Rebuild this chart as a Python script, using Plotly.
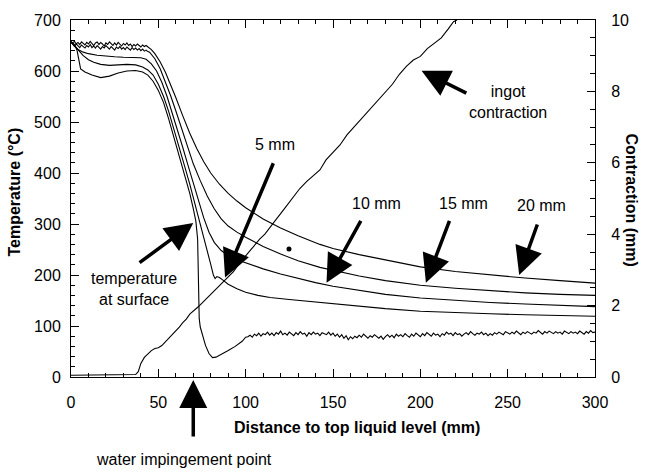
import plotly.graph_objects as go

FONT = "Liberation Sans, Arial, Helvetica, sans-serif"

# ---- temperature profiles (distance in mm, temperature in degC) ----
# noisy melt plateau of the two deepest thermocouples, x = 0..44 mm, 1 mm step
t20_plateau = [657, 655, 658, 653, 656, 652, 657, 654, 651, 656, 653, 658, 654, 650, 655,
               657, 652, 656, 653, 649, 655, 652, 657, 653, 650, 655, 651, 656, 652, 649,
               654, 651, 655, 650, 653, 648, 652, 649, 653, 650, 647, 651, 648, 650, 647]
t15_plateau = [657, 652, 648, 653, 650, 646, 651, 648, 645, 650, 647, 652, 646, 649, 645,
               650, 647, 643, 648, 645, 650, 646, 643, 648, 645, 641, 647, 644, 648, 643,
               646, 642, 647, 644, 641, 646, 642, 645, 641, 644, 640, 643, 639, 641, 638]
plateau_x = list(range(0, 45))

t20_tail_x = [46, 48, 51, 54, 57, 60, 64, 68, 72, 76, 80, 85, 90, 95, 100, 110, 120, 130,
              142.5, 150, 165, 180, 200, 220, 240, 260, 280, 300]
t20_tail_y = [642, 634, 618, 598, 574, 548, 512, 478, 448, 422, 400, 378, 360, 345, 332, 310,
              292, 277, 260, 252, 240, 230, 216, 207, 200, 194, 189, 184]

t15_tail_x = [45, 48, 51, 54, 57, 60, 63, 66, 70, 74, 78, 82, 86, 90, 95, 100, 110, 120, 130,
              142.5, 150, 165, 180, 200, 220, 240, 260, 280, 300]
t15_tail_y = [637, 624, 605, 580, 552, 522, 490, 458, 418, 385, 355, 330, 310, 296, 284, 274,
              256, 241, 228, 215, 209, 198, 189, 180, 174, 169, 165, 162, 160]

t10_x = [0, 2, 4, 7, 10, 15, 20, 25, 30, 35, 40, 43, 46, 49, 52, 55, 58, 61, 64, 67, 70, 73,
         76, 79, 82, 86, 90, 95, 100, 110, 120, 130, 140, 150, 165, 180, 200, 220, 240, 260,
         280, 300]
t10_y = [657, 650, 642, 637, 634, 631, 629, 628, 627, 627, 626, 623, 614, 600, 578, 550, 518,
         484, 450, 415, 380, 345, 312, 284, 264, 248, 238, 230, 224, 212, 202, 193, 185, 178,
         170, 162, 155, 150, 146, 143, 140, 138]

t5_x = [0, 2, 4, 7, 10, 13, 17, 22, 27, 32, 37, 41, 44, 47, 50, 53, 56, 59, 62, 65, 68, 71,
        74, 76, 78, 80, 81.5, 82.5, 83.5, 85, 87, 90, 95, 100, 107, 114, 125, 140, 150, 165,
        180, 200, 220, 240, 260, 280, 300]
t5_y = [656, 650, 642, 630, 622, 617, 613, 611, 612, 613, 612, 608, 602, 592, 574, 550, 520,
        486, 450, 414, 378, 340, 302, 272, 246, 221, 200, 193, 197, 195, 190, 182, 173, 166,
        160, 156, 152, 147, 144, 139, 134, 129, 126, 124, 122, 120, 119]

surf_x = [0, 2, 3.5, 4.5, 5.5, 8, 12, 17, 22, 27, 32, 37, 41, 44, 47, 50, 53, 56, 59, 62, 65,
          68, 70, 71.5, 72.5, 72.8, 73, 73.4, 74, 75.5, 77, 79, 81, 83, 86, 90, 94, 98, 100]
surf_y = [658, 652, 640, 620, 604, 598, 592, 587, 590, 596, 600, 601, 598, 592, 580, 562, 538,
          505, 470, 435, 400, 360, 330, 305, 270, 220, 160, 115, 98, 78, 62, 46, 38, 39, 44,
          52, 60, 70, 78]
# fluctuating surface reading under the water film, x = 101.25..300 mm, 1.25 mm step
surf_noise = [79, 82, 78, 84, 81, 86, 80, 85, 83, 88,
              82, 86, 81, 87, 84, 90, 83, 86, 82, 88,
              85, 81, 87, 83, 89, 84, 86, 80, 87, 83,
              88, 84, 86, 81, 87, 85, 83, 88, 82, 86,
              80, 84, 78, 83, 76, 81, 73, 79, 75, 80,
              77, 82, 78, 84, 79, 76, 81, 78, 83, 80,
              76, 80, 74, 79, 83, 78, 82, 77, 84, 80,
              83, 79, 85, 81, 78, 84, 80, 86, 82, 79,
              85, 81, 87, 83, 80, 86, 82, 84, 79, 85,
              82, 88, 84, 86, 81, 87, 83, 85, 80, 84,
              87, 83, 89, 85, 82, 86, 84, 88, 83, 86,
              81, 85, 82, 87, 84, 88, 85, 83, 89, 86,
              84, 88, 85, 90, 86, 83, 88, 85, 89, 87,
              84, 88, 86, 91, 87, 84, 89, 86, 90, 87,
              85, 89, 86, 88, 84, 90, 87, 85, 89, 86,
              88, 85, 90, 87, 84, 89, 86, 91, 87, 88]
surf_noise_x = [101.25 + 1.25 * i for i in range(len(surf_noise))]

# ---- ingot contraction (mm), right axis ----
contr_x = [0, 10, 20, 30, 37, 38.5, 40, 42, 44, 46, 48, 50, 52, 54, 56, 58, 60, 62, 64, 66, 68,
           70, 72.7, 76, 80, 84, 89, 93, 97, 100, 104, 108, 111, 114, 118, 122, 126, 131, 135,
           139, 142.5, 146, 150, 154, 158, 162, 166, 171, 175, 180, 184, 188, 192, 196, 200,
           204, 208, 212, 216, 219, 221]
contr_y = [0.05, 0.06, 0.05, 0.06, 0.07, 0.15, 0.38, 0.55, 0.66, 0.74, 0.80, 0.82, 0.88, 0.98,
           1.08, 1.20, 1.28, 1.40, 1.52, 1.62, 1.76, 1.84, 1.96, 2.12, 2.32, 2.50, 2.76, 2.95,
           3.22, 3.40, 3.62, 3.86, 4.00, 4.18, 4.45, 4.70, 4.95, 5.28, 5.48, 5.65, 5.80, 6.08,
           6.30, 6.50, 6.78, 7.00, 7.22, 7.50, 7.72, 7.98, 8.20, 8.48, 8.70, 8.88, 8.98, 9.20,
           9.35, 9.50, 9.75, 9.95, 10.0]

# small ink blot on the chart
blot_x = [124.8]
blot_y = [251]

x_ticks = [0, 50, 100, 150, 200, 250, 300]
t_ticks = [0, 100, 200, 300, 400, 500, 600, 700]
c_ticks = [0, 2, 4, 6, 8, 10]

line = dict(color="black", width=1.1)

fig = go.Figure()
series = [
    (plateau_x + t20_tail_x, t20_plateau + t20_tail_y),
    (plateau_x + t15_tail_x, t15_plateau + t15_tail_y),
    (t10_x, t10_y),
    (t5_x, t5_y),
    (surf_x + surf_noise_x, surf_y + surf_noise),
]
for xs, ys in series:
    fig.add_trace(go.Scatter(x=xs, y=ys, mode="lines", line=line, showlegend=False,
                             hoverinfo="skip"))
fig.add_trace(go.Scatter(x=contr_x, y=contr_y, mode="lines", line=line, yaxis="y2",
                         showlegend=False, hoverinfo="skip"))
fig.add_trace(go.Scatter(x=blot_x, y=blot_y, mode="markers",
                         marker=dict(color="black", size=5, symbol="circle"),
                         showlegend=False, hoverinfo="skip"))

tickfont = dict(family=FONT, size=16, color="black")
axis_common = dict(showgrid=False, zeroline=False, showline=True, linecolor="black",
                   linewidth=1, ticks="inside", tickcolor="black", ticklen=8, tickwidth=1,
                   tickfont=tickfont)

fig.update_layout(
    width=645, height=475,
    margin=dict(l=71, r=50, t=17, b=98),
    paper_bgcolor="white", plot_bgcolor="white",
    xaxis=dict(range=[0, 300], tickvals=x_ticks, mirror="ticks",
               minor=dict(dtick=10, ticks="inside", ticklen=4, tickcolor="black"),
               ticklabelstandoff=11, **axis_common),
    yaxis=dict(range=[0, 700], tickvals=t_ticks, mirror=False,
               minor=dict(dtick=20, ticks="inside", ticklen=4, tickcolor="black"),
               ticklabelstandoff=6, **axis_common),
    yaxis2=dict(range=[0, 10], tickvals=c_ticks, overlaying="y", side="right",
                minor=dict(dtick=0.5, ticks="inside", ticklen=5, tickcolor="black"),
                ticklabelstandoff=12, **axis_common),
)

txt = dict(family=FONT, size=16, color="black")
bold = dict(family=FONT, size=16, color="black", weight="bold")

annotations = [
    # axis titles
    dict(text="<b>Distance to top liquid level (mm)</b>", x=357, y=428, font=bold),
    dict(text="<b>Temperature (°C)</b>", x=15, y=191, font=bold, textangle=-90),
    dict(text="<b>Contraction (mm)</b>", x=632, y=198, font=bold, textangle=90),
    # curve labels
    dict(text="5 mm", x=275, y=143, font=txt),
    dict(text="10 mm", x=376, y=202, font=txt),
    dict(text="15 mm", x=463, y=202, font=txt),
    dict(text="20 mm", x=541, y=204, font=txt),
    dict(text="ingot<br>contraction", x=508, y=100, font=txt),
    dict(text="temperature<br>at surface", x=134, y=288, font=txt),
    dict(text="water impingement point", x=184, y=460, font=txt),
]
for a in annotations:
    fig.add_annotation(xref="paper", yref="paper", showarrow=False,
                       x=(a["x"] - 71) / 524, y=(377 - a["y"]) / 360,
                       xanchor="center", yanchor="middle", text=a["text"], font=a["font"],
                       textangle=a.get("textangle", 0))

arrow_style = dict(text="", showarrow=True, arrowhead=2, arrowsize=1.6, arrowwidth=3.5,
                   arrowcolor="black")

# thick pointer arrows: (tip x, tip y, tail x, tail y, y-axis)
arrows = [
    (88.2, 195, 116.2, 422, "y"),      # 5 mm
    (70.0, 302, 38.4, 222, "y"),       # temperature at surface
    (146.3, 185, 166.4, 309, "y"),     # 10 mm
    (203.2, 185, 217.0, 309, "y"),     # 15 mm
    (256.6, 200, 267.3, 302, "y"),     # 20 mm
    (200.7, 8.58, 227.2, 7.93, "y2"),  # ingot contraction
]
for tx, ty, sx, sy, yr in arrows:
    fig.add_annotation(x=tx, y=ty, ax=sx, ay=sy, xref="x", yref=yr, axref="x", ayref=yr,
                       **arrow_style)

# upward arrow under the x axis marking the water impingement point
fig.add_annotation(x=70.0, xref="x", y=-3 / 360, yref="paper", ax=0, ay=58,
                   axref="pixel", ayref="pixel", **arrow_style)

fig.write_html("out.html")
